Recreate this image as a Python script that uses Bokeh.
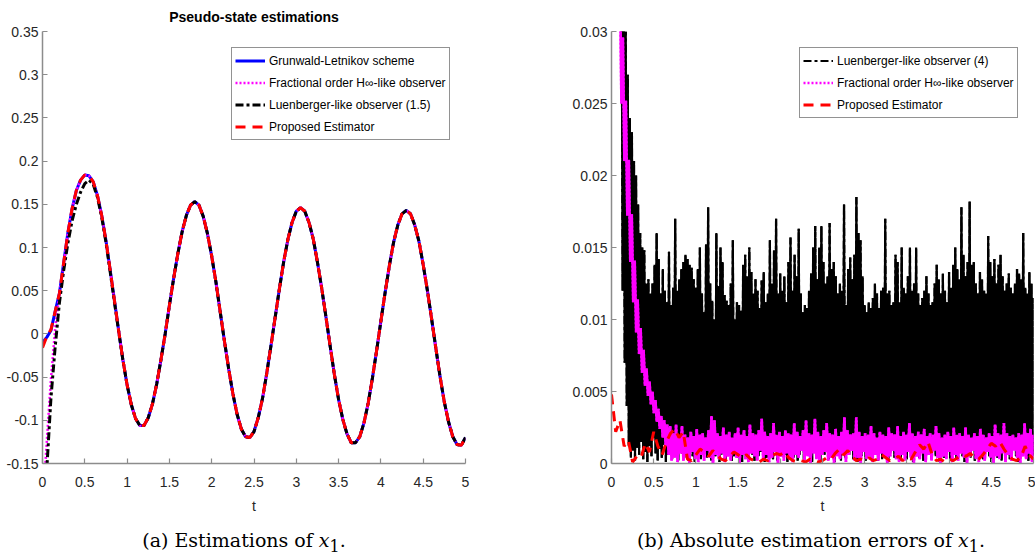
import numpy as np
from bokeh.plotting import figure
from bokeh.models import Range1d, FixedTicker, Legend, LegendItem, Div
from bokeh.layouts import row, column
from bokeh.embed import file_html
from bokeh.resources import INLINE

# ---------------- data: left panel (estimations of x1) ----------------
t_left = np.linspace(0.0, 5.0, 101)
grunwald = [
    -0.010, -0.004, 0.004, 0.026, 0.047, 0.082, 0.117, 0.145, 0.166, 0.178,
    0.184, 0.183, 0.176, 0.160, 0.137, 0.108, 0.074, 0.039, 0.004, -0.030,
    -0.059, -0.082, -0.098, -0.106, -0.106, -0.097, -0.081, -0.058, -0.030, 0.000,
    0.033, 0.064, 0.093, 0.118, 0.137, 0.149, 0.153, 0.149, 0.136, 0.116,
    0.090, 0.060, 0.026, -0.008, -0.040, -0.069, -0.093, -0.110, -0.119, -0.120,
    -0.113, -0.097, -0.075, -0.046, -0.014, 0.019, 0.052, 0.083, 0.109, 0.129,
    0.142, 0.146, 0.142, 0.129, 0.110, 0.083, 0.053, 0.020, -0.014, -0.047,
    -0.076, -0.099, -0.116, -0.126, -0.126, -0.119, -0.103, -0.080, -0.051, -0.019,
    0.015, 0.048, 0.079, 0.106, 0.126, 0.139, 0.143, 0.139, 0.126, 0.107,
    0.080, 0.050, 0.017, -0.017, -0.050, -0.079, -0.102, -0.119, -0.128, -0.129,
    -0.120,
]
# transient parts of the observers (they coincide with the reference afterwards)
proposed_start = [-0.016, -0.003, 0.005]
hinf_start = [-0.200, -0.126, -0.052, 0.006, 0.046, 0.080]
luenberger_start = [-0.300, -0.158, -0.074, -0.015, 0.036, 0.073, 0.105, 0.131, 0.150, 0.164,
                    0.174, 0.178, 0.173, 0.158, 0.135, 0.106, 0.072, 0.037, 0.003]

proposed = proposed_start + grunwald[len(proposed_start):]
hinf = hinf_start + grunwald[len(hinf_start):]
luenberger = luenberger_start + grunwald[len(luenberger_start):]

left_xticks = [0, 0.5, 1, 1.5, 2, 2.5, 3, 3.5, 4, 4.5, 5]
left_xlabels = ["0", "0.5", "1", "1.5", "2", "2.5", "3", "3.5", "4", "4.5", "5"]
left_yticks = [-0.15, -0.1, -0.05, 0, 0.05, 0.1, 0.15, 0.2, 0.25, 0.3, 0.35]
left_ylabels = ["-0.15", "-0.1", "-0.05", "0", "0.05", "0.1", "0.15", "0.2", "0.25", "0.3", "0.35"]

# ---------------- data: right panel (absolute errors) ----------------
t_err_lu = np.linspace(0.12, 5.0, 201)
err_lu_upper = [
    0.034, 0.032, 0.030, 0.027, 0.024, 0.023, 0.021, 0.020, 0.018, 0.016,
    0.015, 0.0148, 0.0125, 0.0128, 0.0118, 0.0125, 0.0138, 0.0160, 0.0142, 0.0118,
    0.0135, 0.0120, 0.0112, 0.0147, 0.0110, 0.0122, 0.0170, 0.0120, 0.0128, 0.0135,
    0.0140, 0.0145, 0.0142, 0.0138, 0.0136, 0.0128, 0.0122, 0.0135, 0.0150, 0.0118,
    0.0105, 0.0152, 0.0178, 0.0125, 0.0113, 0.0100, 0.0160, 0.0123, 0.0150, 0.0140,
    0.0117, 0.0113, 0.0110, 0.0125, 0.0155, 0.0100, 0.0112, 0.0110, 0.0106, 0.0138,
    0.0145, 0.0130, 0.0150, 0.0133, 0.0118, 0.0128, 0.0120, 0.0108, 0.0127, 0.0133,
    0.0112, 0.0118, 0.0155, 0.0125, 0.0148, 0.0170, 0.0118, 0.0132, 0.0120, 0.0130,
    0.0112, 0.0140, 0.0157, 0.0120, 0.0145, 0.0130, 0.0163, 0.0118, 0.0105, 0.0110,
    0.0108, 0.0120, 0.0132, 0.0150, 0.0165, 0.0128, 0.0150, 0.0165, 0.0140, 0.0125,
    0.0130, 0.0167, 0.0135, 0.0140, 0.0130, 0.0118, 0.0125, 0.0120, 0.0180, 0.0110,
    0.0135, 0.0143, 0.0128, 0.0145, 0.0185, 0.0160, 0.0155, 0.0130, 0.0110, 0.0105,
    0.0112, 0.0108, 0.0115, 0.0125, 0.0118, 0.0108, 0.0120, 0.0122, 0.0170, 0.0118,
    0.0120, 0.0110, 0.0112, 0.0145, 0.0140, 0.0112, 0.0150, 0.0122, 0.0118, 0.0130,
    0.0150, 0.0120, 0.0125, 0.0150, 0.0118, 0.0110, 0.0115, 0.0120, 0.0130, 0.0118,
    0.0110, 0.0112, 0.0125, 0.0138, 0.0128, 0.0118, 0.0132, 0.0120, 0.0112, 0.0133,
    0.0122, 0.0138, 0.0150, 0.0135, 0.0128, 0.0178, 0.0145, 0.0130, 0.0140, 0.0182,
    0.0138, 0.0140, 0.0125, 0.0118, 0.0133, 0.0128, 0.0120, 0.0118, 0.0158, 0.0140,
    0.0130, 0.0142, 0.0125, 0.0138, 0.0145, 0.0130, 0.0120, 0.0125, 0.0132, 0.0122,
    0.0118, 0.0125, 0.0135, 0.0132, 0.0128, 0.0160, 0.0122, 0.0118, 0.0133, 0.0125,
    0.0115,
]
err_lu_lower = [
    0.0120, 0.0070, 0.0040, 0.0012, 0.0004, 0.0009, 0.0002, 0.0011, 0.0006, 0.0015,
    0.0003, 0.0008, 0.0001, 0.0012, 0.0005, 0.0018, 0.0007, 0.0002, 0.0010, 0.0004,
    0.0013, 0.0001, 0.0006, 0.0009, 0.0003, 0.0016, 0.0005, 0.0002, 0.0011, 0.0007,
    0.0004, 0.0014, 0.0002, 0.0008, 0.0005, 0.0001, 0.0012, 0.0006, 0.0003, 0.0010,
    0.0017, 0.0004, 0.0007, 0.0002, 0.0013, 0.0005, 0.0009, 0.0001, 0.0006, 0.0011,
    0.0003, 0.0008, 0.0015, 0.0002, 0.0005, 0.0010, 0.0004, 0.0012, 0.0001, 0.0007,
    0.0009, 0.0003, 0.0014, 0.0006, 0.0002, 0.0011, 0.0005, 0.0008, 0.0016, 0.0001,
    0.0004, 0.0010, 0.0007, 0.0003, 0.0012, 0.0002, 0.0009, 0.0005, 0.0013, 0.0006,
    0.0001, 0.0008, 0.0011, 0.0004, 0.0015, 0.0002, 0.0006, 0.0010, 0.0003, 0.0007,
    0.0012, 0.0005, 0.0001, 0.0009, 0.0004, 0.0014, 0.0002, 0.0008, 0.0006, 0.0011,
    0.0003, 0.0013, 0.0005, 0.0001, 0.0010, 0.0007, 0.0002, 0.0016, 0.0004, 0.0009,
    0.0006, 0.0012, 0.0003, 0.0008, 0.0001, 0.0011, 0.0005, 0.0014, 0.0002, 0.0007,
    0.0010, 0.0004, 0.0013, 0.0006, 0.0002, 0.0009, 0.0003, 0.0015, 0.0005, 0.0001,
    0.0008, 0.0012, 0.0004, 0.0010, 0.0006, 0.0002, 0.0011, 0.0007, 0.0003, 0.0014,
    0.0005, 0.0001, 0.0009, 0.0013, 0.0004, 0.0008, 0.0002, 0.0012, 0.0006, 0.0010,
    0.0003, 0.0016, 0.0005, 0.0007, 0.0001, 0.0011, 0.0004, 0.0009, 0.0014, 0.0002,
    0.0006, 0.0012, 0.0003, 0.0008, 0.0010, 0.0005, 0.0001, 0.0013, 0.0007, 0.0004,
    0.0011, 0.0002, 0.0009, 0.0006, 0.0015, 0.0003, 0.0008, 0.0012, 0.0005, 0.0001,
    0.0010, 0.0007, 0.0004, 0.0013, 0.0002, 0.0009, 0.0006, 0.0011, 0.0003, 0.0008,
    0.0014, 0.0005, 0.0001, 0.0010, 0.0007, 0.0012, 0.0004, 0.0002, 0.0009, 0.0006,
    0.0003,
]

t_err_hinf = np.linspace(0.10, 5.0, 141)
err_hinf_upper = [
    0.0345, 0.0296, 0.0252, 0.0211, 0.0173, 0.0141, 0.0114, 0.0094, 0.0079, 0.0066,
    0.0057, 0.0050, 0.0044, 0.0038, 0.0033, 0.0030, 0.0027, 0.0026,
    0.0021, 0.0027, 0.0019, 0.0026, 0.0020, 0.0018, 0.0022, 0.0019, 0.0024, 0.0020,
    0.0021, 0.0018, 0.0023, 0.0033, 0.0030, 0.0021, 0.0019, 0.0025, 0.0020, 0.0022,
    0.0018, 0.0021, 0.0025, 0.0020, 0.0023, 0.0019, 0.0027, 0.0021, 0.0020, 0.0023,
    0.0031, 0.0022, 0.0019, 0.0021, 0.0028, 0.0020, 0.0022, 0.0019, 0.0023, 0.0021,
    0.0020, 0.0028, 0.0022, 0.0019, 0.0023, 0.0030, 0.0021, 0.0020, 0.0031, 0.0022,
    0.0019, 0.0023, 0.0028, 0.0021, 0.0020, 0.0024, 0.0019, 0.0022, 0.0032, 0.0023,
    0.0020, 0.0021, 0.0032, 0.0022, 0.0019, 0.0021, 0.0020, 0.0026, 0.0021, 0.0018,
    0.0022, 0.0020, 0.0019, 0.0025, 0.0021, 0.0020, 0.0026, 0.0019, 0.0022, 0.0020,
    0.0028, 0.0021, 0.0019, 0.0022, 0.0020, 0.0024, 0.0019, 0.0021, 0.0020, 0.0026,
    0.0021, 0.0018, 0.0020, 0.0022, 0.0019, 0.0025, 0.0020, 0.0021, 0.0019, 0.0025,
    0.0020, 0.0018, 0.0021, 0.0019, 0.0024, 0.0020, 0.0018, 0.0021, 0.0019, 0.0027,
    0.0021, 0.0020, 0.0028, 0.0021, 0.0019, 0.0020, 0.0018, 0.0021, 0.0020, 0.0028,
    0.0021, 0.0024, 0.0020,
]
err_hinf_lower = [
    0.0250, 0.0210, 0.0172, 0.0140, 0.0112, 0.0091, 0.0076, 0.0063, 0.0054, 0.0047,
    0.0041, 0.0035, 0.0029, 0.0024, 0.0018, 0.0012, 0.0006, 0.0002,
    0.0004, 0.0001, 0.0007, 0.0002, 0.0005, 0.0000, 0.0008, 0.0003, 0.0001, 0.0006,
    0.0002, 0.0009, 0.0004, 0.0000, 0.0006, 0.0003, 0.0007, 0.0001, 0.0005, 0.0002,
    0.0008, 0.0004, 0.0000, 0.0006, 0.0003, 0.0001, 0.0007, 0.0005, 0.0002, 0.0009,
    0.0003, 0.0006, 0.0001, 0.0004, 0.0008, 0.0000, 0.0005, 0.0002, 0.0007, 0.0003,
    0.0001, 0.0006, 0.0004, 0.0009, 0.0002, 0.0005, 0.0000, 0.0007, 0.0003, 0.0001,
    0.0006, 0.0008, 0.0002, 0.0004, 0.0000, 0.0005, 0.0003, 0.0007, 0.0001, 0.0006,
    0.0009, 0.0002, 0.0004, 0.0000, 0.0008, 0.0003, 0.0005, 0.0001, 0.0006, 0.0002,
    0.0007, 0.0004, 0.0000, 0.0005, 0.0009, 0.0003, 0.0001, 0.0006, 0.0002, 0.0008,
    0.0004, 0.0000, 0.0005, 0.0003, 0.0007, 0.0001, 0.0006, 0.0002, 0.0009, 0.0004,
    0.0000, 0.0005, 0.0003, 0.0008, 0.0001, 0.0006, 0.0002, 0.0007, 0.0004, 0.0000,
    0.0005, 0.0009, 0.0003, 0.0001, 0.0006, 0.0002, 0.0008, 0.0004, 0.0000, 0.0005,
    0.0003, 0.0007, 0.0001, 0.0006, 0.0002, 0.0009, 0.0004, 0.0000, 0.0005, 0.0003,
    0.0007, 0.0001, 0.0006,
]

t_err_prop = np.linspace(0.0, 5.0, 101)
err_proposed = [
    0.0048, 0.0022, 0.0030, 0.0012, 0.0016, 0.0001, 0.0005, 0.0004, 0.0014, 0.0008,
    0.0022, 0.0012, 0.0006, 0.0015, 0.0021, 0.0024, 0.0018, 0.0022, 0.0003, 0.0002,
    0.0006, 0.0010, 0.0008, 0.0005, 0.0009, 0.0006, 0.0003, 0.0002, 0.0005, 0.0008,
    0.0006, 0.0004, 0.0006, 0.0003, 0.0002, 0.0001, 0.0003, 0.0002, 0.0005, 0.0007,
    0.0006, 0.0008, 0.0004, 0.0002, 0.0001, 0.0002, 0.0001, 0.0003, 0.0002, 0.0001,
    0.0002, 0.0004, 0.0003, 0.0007, 0.0010, 0.0006, 0.0009, 0.0005, 0.0002, 0.0003,
    0.0002, 0.0004, 0.0002, 0.0003, 0.0006, 0.0004, 0.0002, 0.0003, 0.0005, 0.0002,
    0.0004, 0.0003, 0.0008, 0.0013, 0.0010, 0.0015, 0.0006, 0.0002, 0.0003, 0.0001,
    0.0003, 0.0002, 0.0004, 0.0006, 0.0005, 0.0007, 0.0004, 0.0003, 0.0006, 0.0010,
    0.0014, 0.0012, 0.0015, 0.0010, 0.0006, 0.0003, 0.0002, 0.0004, 0.0012, 0.0006,
    0.0003,
]

right_xticks = left_xticks
right_xlabels = left_xlabels
right_yticks = [0, 0.005, 0.01, 0.015, 0.02, 0.025, 0.03]
right_ylabels = ["0", "0.005", "0.01", "0.015", "0.02", "0.025", "0.03"]


def zigzag(t, upper, lower):
    """Arrange an upper/lower sample pair per time step as one dense line."""
    t = np.asarray(t, dtype=float)
    dt = t[1] - t[0]
    xs = np.empty(2 * len(t))
    ys = np.empty(2 * len(t))
    xs[0::2] = t
    xs[1::2] = t + dt / 2
    ys[0::2] = upper
    ys[1::2] = lower
    return xs, ys


# ---------------- styling ----------------
FONT = "Liberation Sans"
TXT = "#262626"
AXC = "#8c8c8c"


def style_axes(p, xticks, xlabels, yticks, ylabels):
    p.grid.visible = False
    p.outline_line_color = None
    p.background_fill_color = "white"
    p.border_fill_color = "white"
    p.xaxis.ticker = FixedTicker(ticks=xticks)
    p.yaxis.ticker = FixedTicker(ticks=yticks)
    p.xaxis.major_label_overrides = dict(zip(xticks, xlabels))
    p.yaxis.major_label_overrides = dict(zip(yticks, ylabels))
    for ax in (p.xaxis[0], p.yaxis[0]):
        ax.axis_line_color = AXC
        ax.axis_line_width = 1.5
        ax.major_tick_line_color = AXC
        ax.major_tick_line_width = 1.2
        ax.major_tick_in = 5
        ax.major_tick_out = 0
        ax.minor_tick_line_color = None
        ax.major_label_text_font = FONT
        ax.major_label_text_font_size = "14px"
        ax.major_label_text_color = TXT
    p.xaxis.major_label_standoff = 13
    p.yaxis.major_label_standoff = 4
    p.xaxis.axis_label = "t"
    p.xaxis.axis_label_text_font = FONT
    p.xaxis.axis_label_text_font_size = "14px"
    p.xaxis.axis_label_text_font_style = "normal"
    p.xaxis.axis_label_text_color = TXT
    p.xaxis.axis_label_standoff = 8


def style_legend(lg):
    lg.border_line_color = TXT
    lg.border_line_width = 1
    lg.background_fill_color = "white"
    lg.background_fill_alpha = 1.0
    lg.label_text_font = FONT
    lg.label_text_font_size = "12px"
    lg.label_text_color = "black"
    lg.glyph_width = 30
    lg.glyph_height = 19
    lg.label_height = 19
    lg.label_standoff = 4
    lg.spacing = 3
    lg.padding = 3
    lg.margin = 0


# ---------------- left figure ----------------
p1 = figure(frame_width=423, frame_height=432, output_backend="svg", toolbar_location=None,
            x_range=Range1d(0, 5), y_range=Range1d(-0.15, 0.35),
            min_border_left=42, min_border_right=63, min_border_top=31, min_border_bottom=68)
style_axes(p1, left_xticks, left_xlabels, left_yticks, left_ylabels)
p1.title.text = "Pseudo-state estimations"
p1.title.align = "center"
p1.title.vertical_align = "top"
p1.title.text_font = FONT
p1.title.text_font_size = "14px"
p1.title.text_font_style = "bold"
p1.title.text_color = "black"
p1.title.offset = 0

r_gl = p1.line(t_left, grunwald, line_color="#0000ff", line_width=3)
r_hi = p1.line(t_left, hinf, line_color="#ff00ff", line_width=2.5, line_dash="2 2")
r_lu = p1.line(t_left, luenberger, line_color="black", line_width=3, line_dash="8 3 3 3")
r_pr = p1.line(t_left, proposed, line_color="#ff0000", line_width=3, line_dash="10 7")

lg1 = Legend(items=[
    LegendItem(label="Grunwald-Letnikov scheme", renderers=[r_gl]),
    LegendItem(label="Fractional order H\u221e-like observer", renderers=[r_hi]),
    LegendItem(label="Luenberger-like observer (1.5)", renderers=[r_lu]),
    LegendItem(label="Proposed Estimator", renderers=[r_pr]),
], location=(189, 323))
style_legend(lg1)
p1.add_layout(lg1)

# ---------------- right figure ----------------
p2 = figure(frame_width=422, frame_height=432, output_backend="svg", toolbar_location=None,
            x_range=Range1d(0, 5), y_range=Range1d(0, 0.03),
            min_border_left=83, min_border_right=2, min_border_top=31, min_border_bottom=68)
style_axes(p2, right_xticks, right_xlabels, right_yticks, right_ylabels)

xl, yl = zigzag(t_err_lu, err_lu_upper, err_lu_lower)
xh, yh = zigzag(t_err_hinf, err_hinf_upper, err_hinf_lower)
# dense solid trace with the dash-styled trace on top (the latter labels the legend)
p2.line(xl, yl, line_color="black", line_width=2.2)
r2_lu = p2.line(xl, yl, line_color="black", line_width=2.2, line_dash="8 3 3 3")
p2.line(xh, yh, line_color="#ff00ff", line_width=2.6)
r2_hi = p2.line(xh, yh, line_color="#ff00ff", line_width=2.6, line_dash="2 2")
r2_pr = p2.line(t_err_prop, err_proposed, line_color="#ff0000", line_width=3, line_dash="10 7")

lg2 = Legend(items=[
    LegendItem(label="Luenberger-like observer (4)", renderers=[r2_lu]),
    LegendItem(label="Fractional order H\u221e-like observer", renderers=[r2_hi]),
    LegendItem(label="Proposed Estimator", renderers=[r2_pr]),
], location=(188, 345))
style_legend(lg2)
p2.add_layout(lg2)

# ---------------- captions ----------------
cap_style = {"font-family": "DejaVu Serif", "font-size": "19px", "line-height": "19px",
             "text-align": "center", "color": "black", "white-space": "nowrap"}
d1 = Div(text='(a) Estimations of <i>x</i><sub style="line-height:0">1</sub>.',
         width=488, height=19, margin=(0, 40, 0, 0), styles=cap_style)
d2 = Div(text='(b) Absolute estimation errors of <i>x</i><sub style="line-height:0">1</sub>.',
         width=400, height=19, margin=(0, 24, 0, 83), styles=cap_style)

layout = column(row(p1, p2), row(d1, d2))
open("out.html", "w").write(file_html(layout, INLINE))
